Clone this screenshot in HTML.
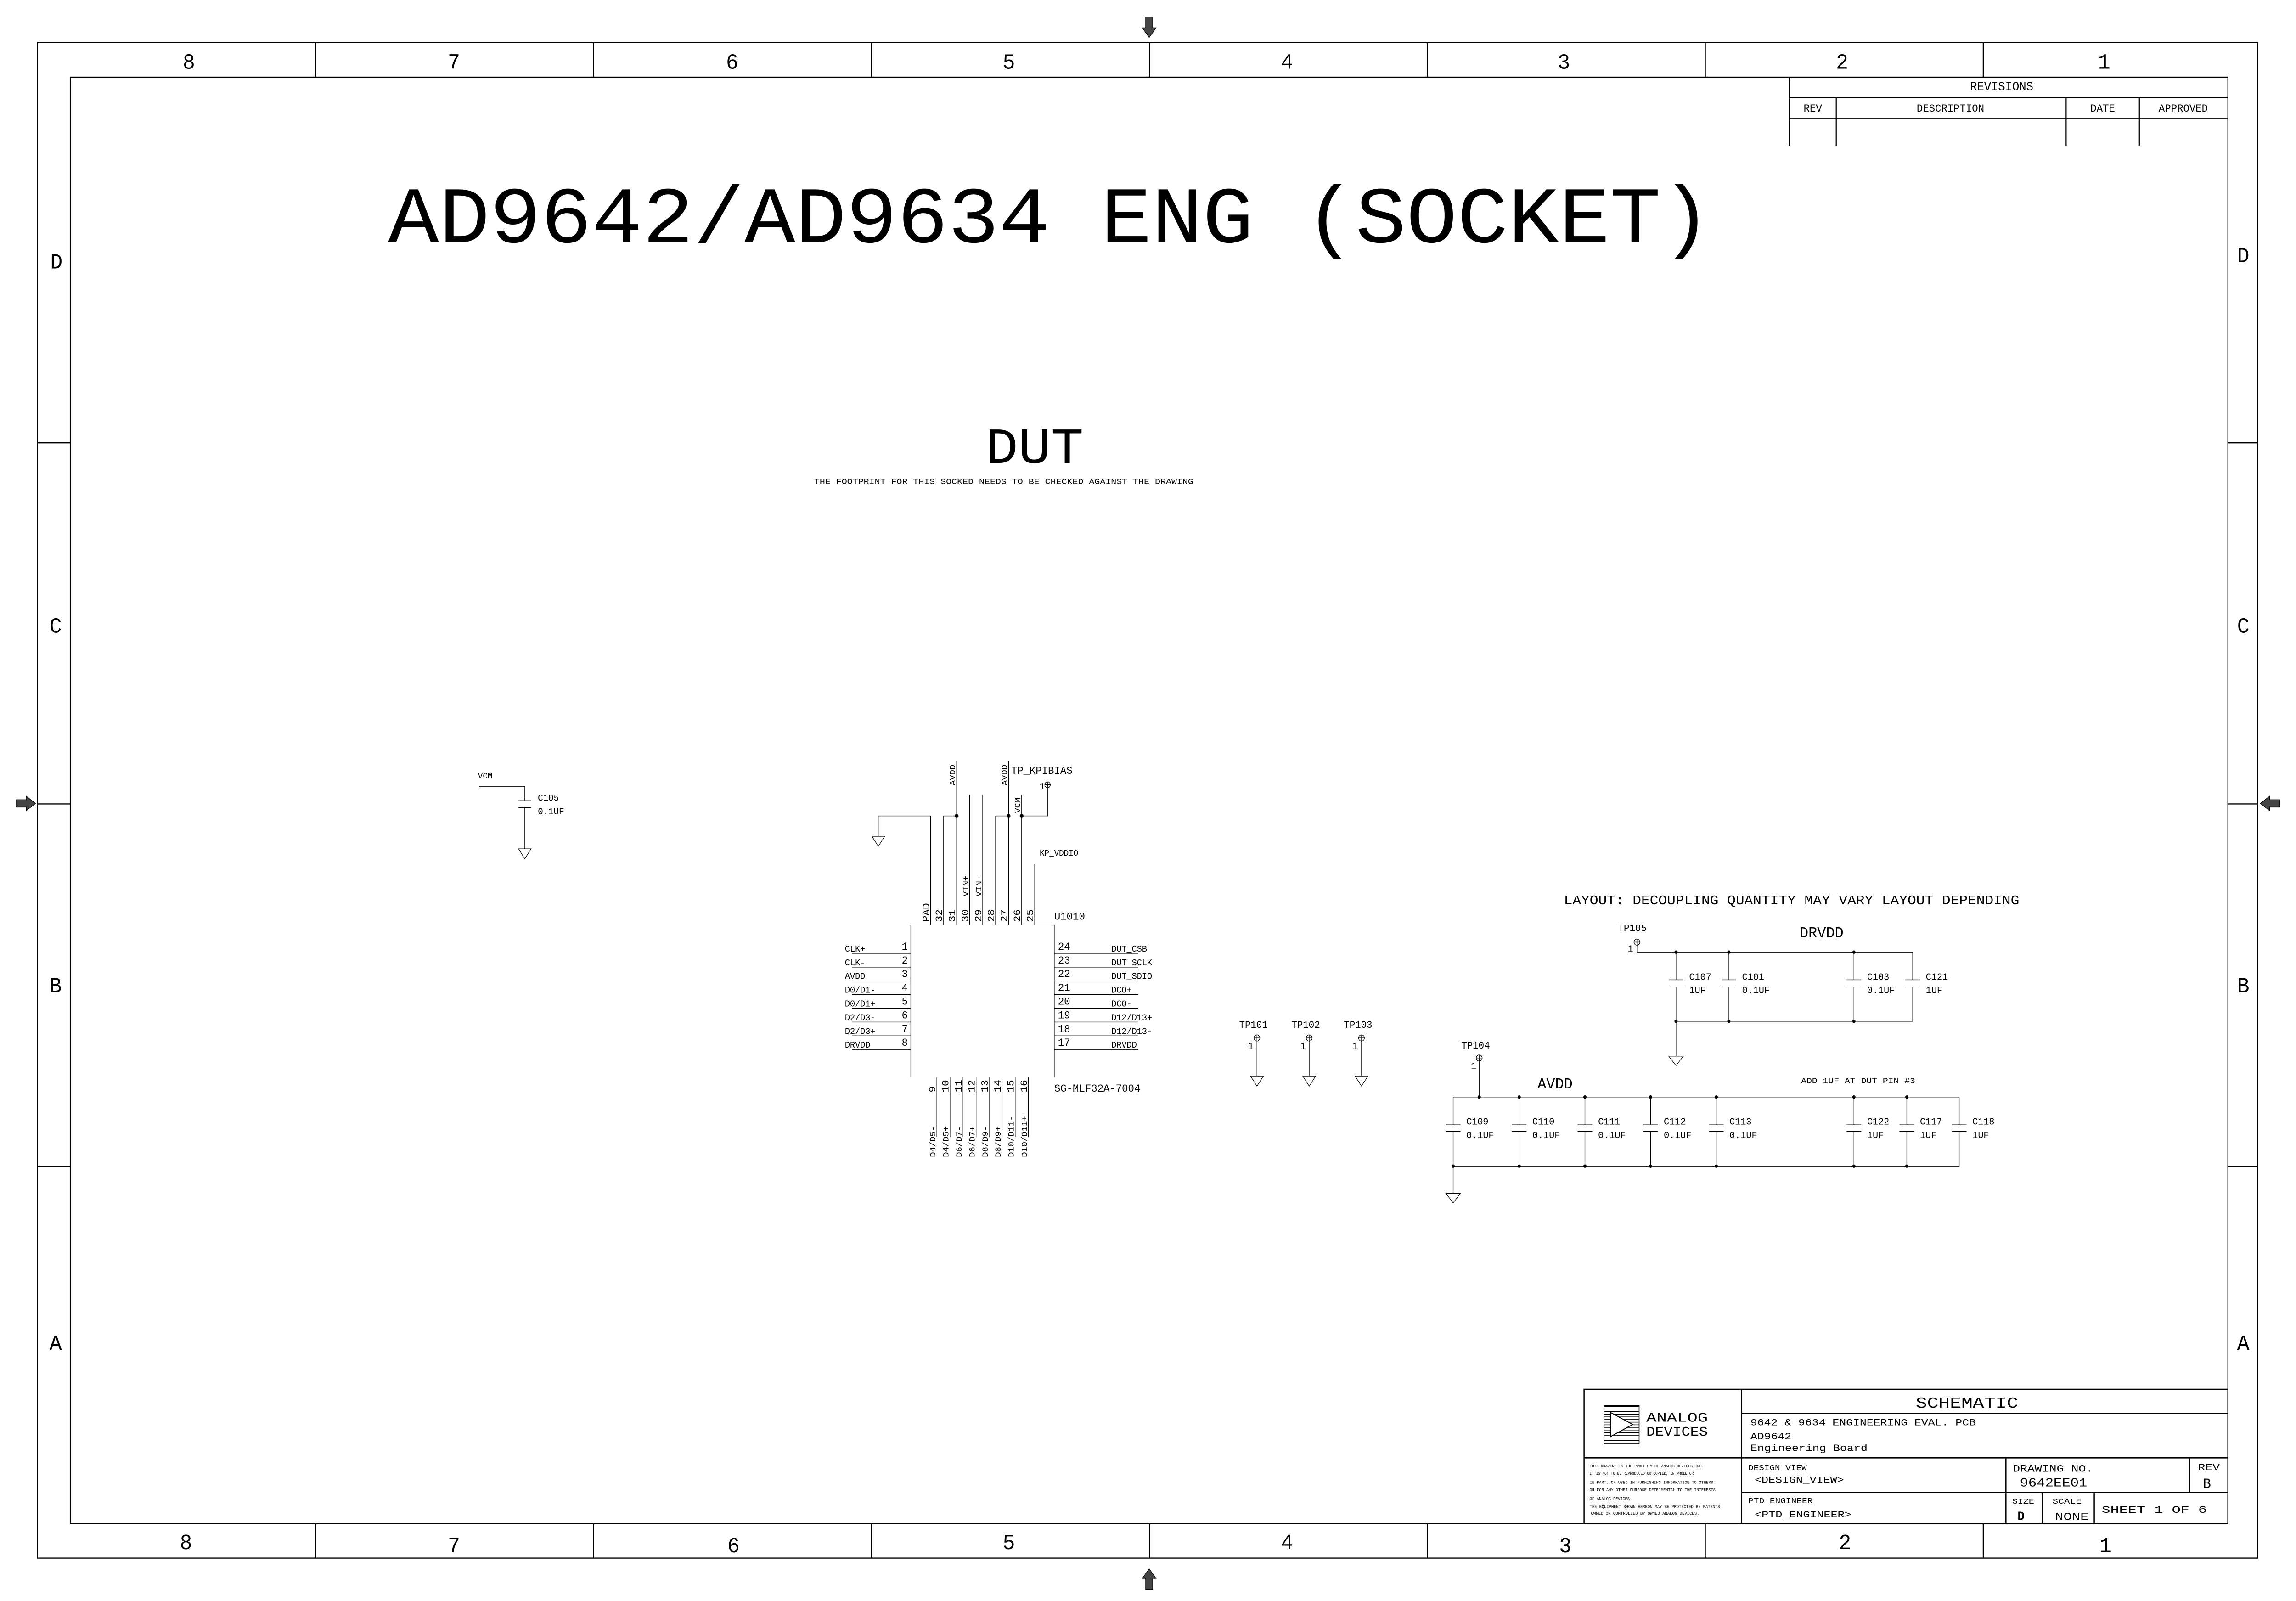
<!DOCTYPE html>
<html><head><meta charset="utf-8"><style>
html,body{margin:0;padding:0;background:#fff;width:100%;height:100%;overflow:hidden;}
svg{display:block;position:fixed;left:0;top:0;width:100vw;height:100vh;}
text{font-family:"Liberation Mono","DejaVu Sans Mono",monospace;fill:#000;}
.tb{font-family:"Liberation Sans Narrow","Liberation Mono",monospace;}
</style></head><body>
<svg xmlns="http://www.w3.org/2000/svg" viewBox="0 0 1568 1037.6" preserveAspectRatio="none">
<rect x="0" y="0" width="1568" height="1037.6" fill="#fff"/>
<g fill="none" stroke="#000" stroke-width="0.7">
<rect x="25.6" y="27.6" width="1516.2" height="982.2"/>
<rect x="48" y="50" width="1473.5" height="937.5"/>
<path d="M215.6 27.6V50M405.4 27.6V50M595.2 27.6V50M785 27.6V50M974.8 27.6V50M1164.6 27.6V50M1354.4 27.6V50"/>
<path d="M215.6 987.5V1009.8M405.4 987.5V1009.8M595.2 987.5V1009.8M785 987.5V1009.8M974.8 987.5V1009.8M1164.6 987.5V1009.8M1354.4 987.5V1009.8"/>
<path d="M25.6 287H48M25.6 521H48M25.6 756H48M1521.5 287H1541.8M1521.5 521H1541.8M1521.5 756H1541.8"/>
<path d="M1222 50V94.4M1222 63.3H1521.5M1222 76.7H1521.5M1254 63.3V94.4M1411 63.3V94.4M1461 63.3V94.4"/>
</g>
<g fill="#444" stroke="#000" stroke-width="0.4">
<path d="M782.4 10.9H787.2V18H789.5L784.8 24.3L780.1 18H782.4Z"/>
<path d="M782.4 1030H787.2V1023H789.5L784.8 1016.7L780.1 1023H782.4Z"/>
<path d="M10.9 518.3V523.1H17.9V525.4L24.3 520.7L17.9 516V518.3Z"/>
<path d="M1557 518.3V523.1H1550V525.4L1543.6 520.7L1550 516V518.3Z"/>
</g>
<g font-size="14" text-anchor="middle">
<text x="129" y="44.5">8</text><text x="310" y="44.5">7</text><text x="500" y="44.5">6</text><text x="689" y="44.5">5</text>
<text x="879" y="44.5">4</text><text x="1068" y="44.5">3</text><text x="1258" y="44.5">2</text><text x="1437" y="44.5">1</text>
<text x="127" y="1004">8</text><text x="310" y="1006">7</text><text x="501" y="1006">6</text><text x="689" y="1004">5</text>
<text x="879" y="1004">4</text><text x="1069" y="1006">3</text><text x="1260" y="1004">2</text><text x="1438" y="1006">1</text>
<text x="38.5" y="174">D</text><text x="38" y="410">C</text><text x="38" y="643">B</text><text x="38" y="875">A</text>
<text x="1532" y="170">D</text><text x="1532" y="410">C</text><text x="1532" y="643">B</text><text x="1532" y="875">A</text>
</g>
<g font-size="8" text-anchor="middle">
<text x="1367" y="58.5">REVISIONS</text>
</g>
<g font-size="7" text-anchor="middle">
<text x="1238" y="72.4">REV</text><text x="1332" y="72.4">DESCRIPTION</text><text x="1436" y="72.4">DATE</text><text x="1491" y="72.4">APPROVED</text>
</g>
<text x="265" y="157" font-size="52" textLength="904" lengthAdjust="spacingAndGlyphs">AD9642/AD9634 ENG (SOCKET)</text>
<text x="673" y="300" font-size="33" textLength="67" lengthAdjust="spacingAndGlyphs">DUT</text>
<text x="556" y="313.5" font-size="4.6" textLength="259" lengthAdjust="spacingAndGlyphs">THE FOOTPRINT FOR THIS SOCKED NEEDS TO BE CHECKED AGAINST THE DRAWING</text>

<g fill="none" stroke="#000" stroke-width="0.4">
<path d="M327.1 509.8H358.4V518.9M354.1 518.9H362.7M354.1 523.4H362.7M358.4 523.4V550.1"/>
<path d="M354.1 550.1H362.7L358.4 556.6Z"/>
<rect x="622" y="599.5" width="98" height="98.5"/>
<path d="M635.5 599.5V528.8H599.8V542M595.5 542H604.2L599.8 548.5Z"/>
<path d="M644.4 599.5V528.8H653.3M653.3 599.5V493M662.2 599.5V515M671.1 599.5V515M679.9 599.5V528.8H688.8M688.8 599.5V493M697.7 599.5V515M697.7 528.8H715.4V510.5M706.6 599.5V560"/>
<path d="M582 617.9H622M582 626.8H622M582 635.7H622M582 644.6H622M582 653.5H622M582 662.4H622M582 671.3H622M582 680.2H622"/>
<path d="M720 617.9H777.4M720 626.8H777.4M720 635.7H777.4M720 644.6H777.4M720 653.5H777.4M720 662.4H777.4M720 671.3H777.4M720 680.2H777.4"/>
<path d="M639.8 698V737M648.8 698V737M657.7 698V737M666.6 698V737M675.5 698V737M684.4 698V737M693.3 698V737M702.3 698V737"/>
<circle cx="715.4" cy="508.6" r="1.9"/><path d="M713.5 508.6H717.3M715.4 506.7V510.5"/>
<g id="tp1">
<circle cx="858.4" cy="672.7" r="2"/><path d="M856.4 672.7H860.4M858.4 670.7V697.4M854 697.4H862.8L858.4 703.9Z"/>
</g>
<use href="#tp1" transform="translate(35.7 0)"/>
<use href="#tp1" transform="translate(71.4 0)"/>
<circle cx="1117.9" cy="610.6" r="2"/><path d="M1115.9 610.6H1119.9M1117.9 608.6V617.1H1306.2V635M1144.6 617.1V635M1180.7 617.1V635M1266.1 617.1V635"/>
<path d="M1139.6 635H1149.6M1139.6 639.6H1149.6M1175.7 635H1185.7M1175.7 639.6H1185.7M1261.1 635H1271.1M1261.1 639.6H1271.1M1301.2 635H1311.2M1301.2 639.6H1311.2"/>
<path d="M1144.6 639.6V684.5M1180.7 639.6V661.9M1266.1 639.6V661.9M1306.2 639.6V661.9H1144.6"/>
<path d="M1139.6 684.5H1149.6L1144.6 690.6Z"/>
<circle cx="1010.2" cy="685.7" r="2"/><path d="M1008.2 685.7H1012.2M1010.2 683.7V711"/>
<path d="M992.4 729V711H1338V729M1037.5 711V729M1082.4 711V729M1127.2 711V729M1172.1 711V729M1266.1 711V729M1302.2 711V729"/>
<path d="M987.4 729H997.4M987.4 733.3H997.4M1032.5 729H1042.5M1032.5 733.3H1042.5M1077.4 729H1087.4M1077.4 733.3H1087.4M1122.2 729H1132.2M1122.2 733.3H1132.2M1167.1 729H1177.1M1167.1 733.3H1177.1M1261.1 729H1271.1M1261.1 733.3H1271.1M1297.2 729H1307.2M1297.2 733.3H1307.2M1333 729H1343M1333 733.3H1343"/>
<path d="M992.4 733.3V773.4M1037.5 733.3V755.8M1082.4 733.3V755.8M1127.2 733.3V755.8M1172.1 733.3V755.8M1266.1 733.3V755.8M1302.2 733.3V755.8M1338 733.3V755.8H992.4"/>
<path d="M987.4 773.4H997.4L992.4 779.6Z"/>
</g>
<g fill="#000">
<circle cx="653.3" cy="528.8" r="1.3"/><circle cx="688.8" cy="528.8" r="1.3"/><circle cx="697.7" cy="528.8" r="1.3"/>
<circle cx="1144.6" cy="617.1" r="1.1"/><circle cx="1180.7" cy="617.1" r="1.1"/><circle cx="1266.1" cy="617.1" r="1.1"/>
<circle cx="1144.6" cy="661.9" r="1.1"/><circle cx="1180.7" cy="661.9" r="1.1"/><circle cx="1266.1" cy="661.9" r="1.1"/>
<circle cx="1010.2" cy="711" r="1.1"/><circle cx="1037.5" cy="711" r="1.1"/><circle cx="1082.4" cy="711" r="1.1"/><circle cx="1127.2" cy="711" r="1.1"/><circle cx="1172.1" cy="711" r="1.1"/><circle cx="1266.1" cy="711" r="1.1"/><circle cx="1302.2" cy="711" r="1.1"/>
<circle cx="992.4" cy="755.8" r="1.1"/><circle cx="1037.5" cy="755.8" r="1.1"/><circle cx="1082.4" cy="755.8" r="1.1"/><circle cx="1127.2" cy="755.8" r="1.1"/><circle cx="1172.1" cy="755.8" r="1.1"/><circle cx="1266.1" cy="755.8" r="1.1"/><circle cx="1302.2" cy="755.8" r="1.1"/>
</g>
<g font-size="6">
<text x="326.4" y="504.5" font-size="5.5">VCM</text>
<text x="367.3" y="518.9">C105</text><text x="367.3" y="527.8">0.1UF</text>
<text x="690.5" y="501.5" font-size="7">TP_KPIBIAS</text>
<text x="710" y="511.5">1</text>
<text x="710" y="554.5" font-size="5.5">KP_VDDIO</text>
<text x="720" y="596" font-size="7">U1010</text>
<text x="720" y="707.5" font-size="7">SG-MLF32A-7004</text>
</g>
<g font-size="5.8">
<text x="577" y="616.7">CLK+</text><text x="577" y="625.6">CLK-</text><text x="577" y="634.5">AVDD</text><text x="577" y="643.4">D0/D1-</text>
<text x="577" y="652.3">D0/D1+</text><text x="577" y="661.2">D2/D3-</text><text x="577" y="670.1">D2/D3+</text><text x="577" y="679">DRVDD</text>
<text x="759" y="616.7">DUT_CSB</text><text x="759" y="625.6">DUT_SCLK</text><text x="759" y="634.5">DUT_SDIO</text><text x="759" y="643.4">DCO+</text>
<text x="759" y="652.3">DCO-</text><text x="759" y="661.2">D12/D13+</text><text x="759" y="670.1">D12/D13-</text><text x="759" y="679">DRVDD</text>
</g>
<g font-size="7">
<g text-anchor="end">
<text x="620" y="615.5">1</text><text x="620" y="624.4">2</text><text x="620" y="633.3">3</text><text x="620" y="642.2">4</text>
<text x="620" y="651.1">5</text><text x="620" y="660">6</text><text x="620" y="668.9">7</text><text x="620" y="677.8">8</text>
</g>
<text x="722.5" y="615.5">24</text><text x="722.5" y="624.4">23</text><text x="722.5" y="633.3">22</text><text x="722.5" y="642.2">21</text>
<text x="722.5" y="651.1">20</text><text x="722.5" y="660">19</text><text x="722.5" y="668.9">18</text><text x="722.5" y="677.8">17</text>
</g>
<g font-size="6.8">
<text transform="translate(634.5 597.5) rotate(-90)">PAD</text>
<text transform="translate(643.4 597.5) rotate(-90)">32</text>
<text transform="translate(652.3 597.5) rotate(-90)">31</text>
<text transform="translate(661.2 597.5) rotate(-90)">30</text>
<text transform="translate(670.1 597.5) rotate(-90)">29</text>
<text transform="translate(678.9 597.5) rotate(-90)">28</text>
<text transform="translate(687.8 597.5) rotate(-90)">27</text>
<text transform="translate(696.7 597.5) rotate(-90)">26</text>
<text transform="translate(705.6 597.5) rotate(-90)">25</text>
<text transform="translate(638.8 708) rotate(-90)">9</text>
<text transform="translate(647.8 708) rotate(-90)">10</text>
<text transform="translate(656.7 708) rotate(-90)">11</text>
<text transform="translate(665.6 708) rotate(-90)">12</text>
<text transform="translate(674.5 708) rotate(-90)">13</text>
<text transform="translate(683.4 708) rotate(-90)">14</text>
<text transform="translate(692.3 708) rotate(-90)">15</text>
<text transform="translate(701.3 708) rotate(-90)">16</text>
</g>
<g font-size="5.6">
<text transform="translate(652.3 509) rotate(-90)">AVDD</text>
<text transform="translate(687.8 509) rotate(-90)">AVDD</text>
<text transform="translate(661.2 581) rotate(-90)">VIN+</text>
<text transform="translate(670.1 581) rotate(-90)">VIN-</text>
<text transform="translate(696.7 527) rotate(-90)">VCM</text>
<text transform="translate(638.8 750) rotate(-90)">D4/D5-</text>
<text transform="translate(647.8 750) rotate(-90)">D4/D5+</text>
<text transform="translate(656.7 750) rotate(-90)">D6/D7-</text>
<text transform="translate(665.6 750) rotate(-90)">D6/D7+</text>
<text transform="translate(674.5 750) rotate(-90)">D8/D9-</text>
<text transform="translate(683.4 750) rotate(-90)">D8/D9+</text>
<text transform="translate(692.3 750) rotate(-90)">D10/D11-</text>
<text transform="translate(701.3 750) rotate(-90)">D10/D11+</text>
</g>
<g font-size="6.5">
<text x="846.3" y="666.2">TP101</text><text x="882" y="666.2">TP102</text><text x="917.7" y="666.2">TP103</text>
<text x="852.3" y="680">1</text><text x="888" y="680">1</text><text x="923.7" y="680">1</text>
<text x="1105" y="603.5">TP105</text><text x="1111.5" y="617">1</text>
<text x="998" y="679.5">TP104</text><text x="1004.5" y="693">1</text>
</g>
<text x="1068" y="586" font-size="8.6" textLength="311" lengthAdjust="spacingAndGlyphs">LAYOUT: DECOUPLING QUANTITY MAY VARY LAYOUT DEPENDING</text>
<text x="1229" y="607.5" font-size="10">DRVDD</text>
<text x="1050" y="705.5" font-size="10">AVDD</text>
<text x="1230" y="702" font-size="5" textLength="78" lengthAdjust="spacingAndGlyphs">ADD 1UF AT DUT PIN #3</text>
<g font-size="6.3">
<text x="1153.6" y="635">C107</text><text x="1153.6" y="643.7">1UF</text>
<text x="1189.7" y="635">C101</text><text x="1189.7" y="643.7">0.1UF</text>
<text x="1275.1" y="635">C103</text><text x="1275.1" y="643.7">0.1UF</text>
<text x="1315.2" y="635">C121</text><text x="1315.2" y="643.7">1UF</text>
<text x="1001.4" y="728.8">C109</text><text x="1001.4" y="737.6">0.1UF</text>
<text x="1046.5" y="728.8">C110</text><text x="1046.5" y="737.6">0.1UF</text>
<text x="1091.4" y="728.8">C111</text><text x="1091.4" y="737.6">0.1UF</text>
<text x="1136.2" y="728.8">C112</text><text x="1136.2" y="737.6">0.1UF</text>
<text x="1181.1" y="728.8">C113</text><text x="1181.1" y="737.6">0.1UF</text>
<text x="1275.1" y="728.8">C122</text><text x="1275.1" y="737.6">1UF</text>
<text x="1311.2" y="728.8">C117</text><text x="1311.2" y="737.6">1UF</text>
<text x="1347" y="728.8">C118</text><text x="1347" y="737.6">1UF</text>
</g>

<g fill="none" stroke="#000" stroke-width="0.8">
<rect x="1081.8" y="900.4" width="439.7" height="87.1"/>
<path d="M1189.3 900.4V987.5M1189.3 916H1521.5M1081.8 944.8H1521.5M1189.3 967.2H1521.5M1369.9 944.8V987.5M1495.2 944.8V967.2M1394.7 967.2V987.5M1430.2 967.2V987.5"/>
</g>
<g stroke="#000" stroke-width="0.45">
<path d="M1095.4 911.5H1119.4M1095.4 913.2H1119.4M1095.4 914.9H1119.4M1095.4 916.6H1119.4M1095.4 918.3H1119.4M1095.4 920H1119.4M1095.4 921.7H1119.4M1095.4 923.4H1119.4M1095.4 925.1H1119.4M1095.4 926.8H1119.4M1095.4 928.5H1119.4M1095.4 930.2H1119.4M1095.4 931.9H1119.4M1095.4 933.6H1119.4M1095.4 935.3H1119.4"/>
<rect x="1095.4" y="911" width="24" height="24.8" fill="none" stroke-width="0.5"/>
<path d="M1100 915.5V931L1115 923.2Z" fill="#fff" stroke-width="0.6"/>
</g>
<g class="tb">
<text x="1124.3" y="921.3" font-size="8.5" textLength="42" lengthAdjust="spacingAndGlyphs">ANALOG</text>
<text x="1124.3" y="930.5" font-size="8.5" textLength="42" lengthAdjust="spacingAndGlyphs">DEVICES</text>
<text x="1343.3" y="912.3" font-size="10" text-anchor="middle" textLength="70" lengthAdjust="spacingAndGlyphs">SCHEMATIC</text>
<text x="1195.4" y="923.7" font-size="6" textLength="154" lengthAdjust="spacingAndGlyphs">9642 &amp; 9634 ENGINEERING EVAL. PCB</text>
<text x="1195.4" y="932.8" font-size="6.3" textLength="28" lengthAdjust="spacingAndGlyphs">AD9642</text>
<text x="1195.4" y="940.4" font-size="6.3" textLength="80" lengthAdjust="spacingAndGlyphs">Engineering Board</text>
<text x="1193.9" y="952.7" font-size="5" textLength="40" lengthAdjust="spacingAndGlyphs">DESIGN VIEW</text>
<text x="1198.3" y="961" font-size="6" textLength="61" lengthAdjust="spacingAndGlyphs">&lt;DESIGN_VIEW&gt;</text>
<text x="1374.5" y="953.8" font-size="6.5" textLength="55" lengthAdjust="spacingAndGlyphs">DRAWING NO.</text>
<text x="1379.4" y="963.3" font-size="8" textLength="46" lengthAdjust="spacingAndGlyphs">9642EE01</text>
<text x="1501" y="952.7" font-size="6" textLength="15" lengthAdjust="spacingAndGlyphs">REV</text>
<text x="1504.5" y="964.2" font-size="9">B</text>
<text x="1193.9" y="974.2" font-size="5" textLength="44" lengthAdjust="spacingAndGlyphs">PTD ENGINEER</text>
<text x="1198.3" y="983.4" font-size="6" textLength="66" lengthAdjust="spacingAndGlyphs">&lt;PTD_ENGINEER&gt;</text>
<text x="1374.2" y="974.5" font-size="5" textLength="15" lengthAdjust="spacingAndGlyphs">SIZE</text>
<text x="1377.8" y="985" font-size="8" font-weight="bold">D</text>
<text x="1401.6" y="974.5" font-size="5" textLength="20" lengthAdjust="spacingAndGlyphs">SCALE</text>
<text x="1403.4" y="985" font-size="7" textLength="23" lengthAdjust="spacingAndGlyphs">NONE</text>
<text x="1435.2" y="980.4" font-size="6.5" textLength="72" lengthAdjust="spacingAndGlyphs">SHEET 1  OF 6</text>
</g>
<g font-size="2.8" fill="#333">
<text x="1085.6" y="951" textLength="78" lengthAdjust="spacingAndGlyphs">THIS DRAWING IS THE PROPERTY OF ANALOG DEVICES INC.</text>
<text x="1085.6" y="955.8" textLength="71" lengthAdjust="spacingAndGlyphs">IT IS NOT TO BE REPRODUCED OR COPIED, IN WHOLE OR</text>
<text x="1085.6" y="961.6" textLength="86" lengthAdjust="spacingAndGlyphs">IN PART, OR USED IN FURNISHING INFORMATION TO OTHERS,</text>
<text x="1085.6" y="966.5" textLength="86" lengthAdjust="spacingAndGlyphs">OR FOR ANY OTHER PURPOSE DETRIMENTAL TO THE INTERESTS</text>
<text x="1085.6" y="972.1" textLength="29" lengthAdjust="spacingAndGlyphs">OF ANALOG DEVICES.</text>
<text x="1085.6" y="977.3" textLength="89" lengthAdjust="spacingAndGlyphs">THE EQUIPMENT SHOWN HEREON MAY BE PROTECTED BY PATENTS</text>
<text x="1086.5" y="981.7" textLength="74" lengthAdjust="spacingAndGlyphs">OWNED OR CONTROLLED BY OWNED ANALOG DEVICES.</text>
</g>
</svg>
</body></html>
